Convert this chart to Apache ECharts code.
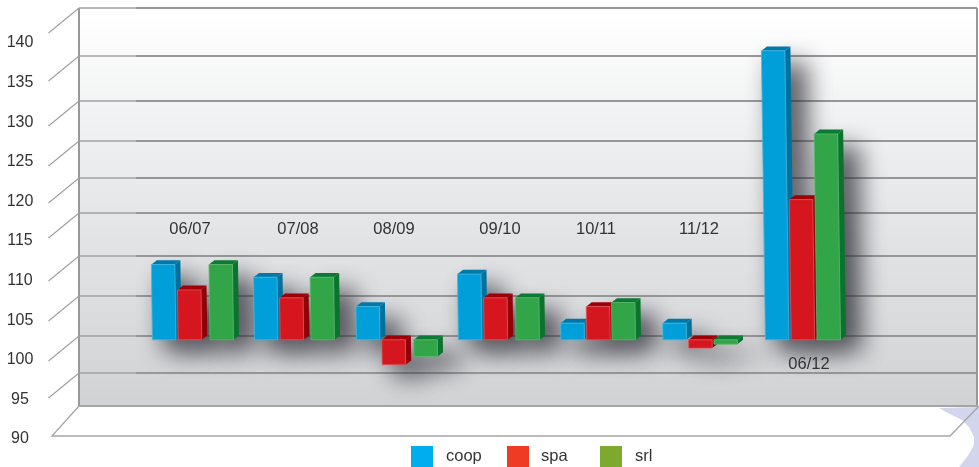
<!DOCTYPE html>
<html>
<head>
<meta charset="utf-8">
<style>html,body{margin:0;padding:0;background:#fff}#c{width:979px;height:467px}</style>
<script src="https://cdn.jsdelivr.net/npm/echarts@6/dist/echarts.min.js"></script>
</head>
<body>
<div id="c"></div>
<script>
const categories = ['06/07','07/08','08/09','09/10','10/11','11/12','06/12'];
const coop = [109.5,107.9,104.2,108.3,102.1,102.1,136.5];
const spa  = [106.3,105.3,96.85,105.3,104.2,98.95,117.7];
const srl  = [109.5,107.9,97.9,105.3,104.7,99.45,126.0];
const baseValue = 100;
const wallLevels = [140.4,134.3,128.6,123.6,118.9,114.5,109.1,104.0,99.0,94.3];
const labelLevels = [116.45,116.45,116.45,116.45,116.45,116.45,99.39];

// layout, in pixels
const labelNudge = [0,6,0,4,-2,-1,7];
const srlShift = [20,19,20,20,14,14,15];
const groupNudge = [0,0,0,0,0.5,0.5,1];
const BAR_W = 23.5, DX = 5.5, DY = 4.3, PLANE = -20, LEAN = 0.0138, WALL = -32;
const OFFSCREEN = 3000;

const looks = {
  coop:{front:'#009FD9',side:'#00709F',top:'#0079A8',edge:'#45B7E0',legend:'#00ADEF',shift:-37.6},
  spa: {front:'#D5161E',side:'#8F0008',top:'#9E0008',edge:'#E0555B',legend:'#F03B24',shift:-11.8},
  srl: {front:'#31A548',side:'#0A7330',top:'#0B7A33',edge:'#5CB96E',legend:'#7DA92E',shift:null}
};

function facePts(api, i, name){
  const v = api.value(1);
  const c = api.coord([i, v]), b = api.coord([i, baseValue]);
  const k = looks[name];
  const shift = (k.shift === null ? srlShift[i] : k.shift + groupNudge[i]);
  const xb = b[0] + shift;
  const yv = c[1] + PLANE, y0 = b[1] + PLANE;
  const top = Math.min(yv, y0), bot = Math.max(yv, y0);
  const lean = (bot - top) * LEAN;
  return {tl:[xb - lean, top], tr:[xb - lean + BAR_W, top], br:[xb + BAR_W, bot], bl:[xb, bot]};
}

function barSeries(name, values){
  const k = looks[name];
  return {
    type:'custom', name, z:4, silent:true,
    data: values.map((v,i)=>[i,v]),
    encode:{x:0,y:1},
    renderItem(params, api){
      const f = facePts(api, params.dataIndex, name);
      const up = p => [p[0]+DX, p[1]-DY];
      return {type:'group', children:[
        {type:'polygon', shape:{points:[f.tr,up(f.tr),up(f.br),f.br]}, style:{fill:k.side}},
        {type:'polygon', shape:{points:[f.tl,up(f.tl),up(f.tr),f.tr]}, style:{fill:k.top}},
        {type:'polygon', shape:{points:[f.tl,f.tr,f.br,f.bl]}, style:{fill:k.front, stroke:k.edge, lineWidth:0.8}}
      ]};
    }
  };
}

function shadowSeries(name, values){
  return {
    type:'custom', z:3, silent:true,
    data: values.map((v,i)=>[i,v]),
    encode:{x:0,y:1},
    renderItem(params, api){
      const f = facePts(api, params.dataIndex, name);
      const away = (p, ex, ey) => [p[0] + ex - OFFSCREEN, p[1] + ey];
      return {type:'polygon',
        shape:{points:[away(f.tl,4,6), away(f.tr,16,6), away(f.br,16,6), away(f.bl,4,6)]},
        style:{fill:'#000', shadowBlur:24, shadowOffsetX:OFFSCREEN+6, shadowOffsetY:6, shadowColor:'rgba(40,40,50,0.75)'}};
    }
  };
}

const wallSeries = {
  type:'custom', z:2, silent:true,
  data: wallLevels.map((v,i)=>[0,v]),
  encode:{x:0,y:1},
  renderItem(params, api){
    const y = Math.round(api.coord([0, api.value(1)])[1] + WALL);
    return {type:'group', children:[
      {type:'line', shape:{x1:79,y1:y,x2:136,y2:y}, style:{stroke:'#A2A2A5',lineWidth:1.5}},
      {type:'line', shape:{x1:136,y1:y,x2:977,y2:y}, style:{stroke:'#97979A',lineWidth:2}},
      {type:'line', shape:{x1:79,y1:y,x2:48.5,y2:y+25}, style:{stroke:'#9E9EA0',lineWidth:1.1}}
    ]};
  }
};

const labelSeries = {
  type:'custom', z:5, silent:true,
  data: labelLevels.map((v,i)=>[i,v]),
  encode:{x:0,y:1},
  renderItem(params, api){
    const i = params.dataIndex;
    const p = api.coord([i, api.value(1)]);
    return {type:'text', style:{text:categories[i], x:p[0]+labelNudge[i], y:p[1], align:'center', verticalAlign:'middle',
      fill:'#333335', font:'16.5px "Liberation Sans", Arial, sans-serif'}};
  }
};

function legendItem(name, left, textPad){
  return {show:true, left, top:446, padding:0, itemWidth:22, itemHeight:21, selectedMode:false,
    textStyle:{color:'#333335', fontSize:16.5, fontFamily:'"Liberation Sans", Arial, sans-serif', padding:[2,0,0,textPad]},
    data:[{name, icon:'rect', itemStyle:{color:looks[name].legend, borderWidth:0}}]};
}

const chart = echarts.init(document.getElementById('c'), null, {renderer:'canvas'});
chart.setOption({
  animation:false,
  backgroundColor:'#fff',
  grid:{left:139, top:43, width:714, height:396},
  xAxis:{type:'category', data:categories, axisLine:{show:false}, axisTick:{show:false}, axisLabel:{show:false}, splitLine:{show:false}},
  yAxis:{type:'value', min:90, max:140, interval:5,
    axisLine:{show:false}, axisTick:{show:false}, splitLine:{show:false},
    axisLabel:{margin:119, align:'center', color:'#333335', fontSize:16, fontFamily:'"Liberation Sans", Arial, sans-serif'}},
  legend:[legendItem('coop',411,8), legendItem('spa',507,7), legendItem('srl',600,8)],
  graphic:[
    {type:'polygon', z:0, shape:{points:[[79,406],[978,406],[950,436],[52,436]]}, style:{fill:'#fff'}},
    {type:'polygon', z:0, shape:{points:[[939,408],[946,412],[954,416],[962,420],[969,427],[974,437],[974,443],[973,447],[967,457],[959,467],[979,467],[979,407]]},
      style:{fill:'#D3D5EC'}},
    {type:'polyline', z:1, shape:{points:[[79,406],[52,436],[950,436],[979,406]]}, style:{fill:null, stroke:'#A5A5A7', lineWidth:1.3}},
    {type:'rect', z:1, shape:{x:79,y:8,width:898,height:398},
      style:{fill:{type:'linear',x:0,y:0,x2:0,y2:1,colorStops:[{offset:0,color:'#FFFFFF'},{offset:0.5,color:'#E6E7E9'},{offset:1,color:'#D1D2D4'}]}}},
    {type:'line', z:1, shape:{x1:79,y1:8,x2:79,y2:406}, style:{stroke:'#98989C',lineWidth:2}},
    {type:'line', z:1, shape:{x1:977,y1:8,x2:977,y2:406}, style:{stroke:'#98989C',lineWidth:2}},
    {type:'line', z:1, shape:{x1:79,y1:406,x2:978,y2:406}, style:{stroke:'#A5A5A7',lineWidth:2}}
  ],
  series:[
    wallSeries,
    shadowSeries('coop',coop), shadowSeries('spa',spa), shadowSeries('srl',srl),
    barSeries('coop',coop), barSeries('spa',spa), barSeries('srl',srl),
    labelSeries
  ]
});
</script>
</body>
</html>
